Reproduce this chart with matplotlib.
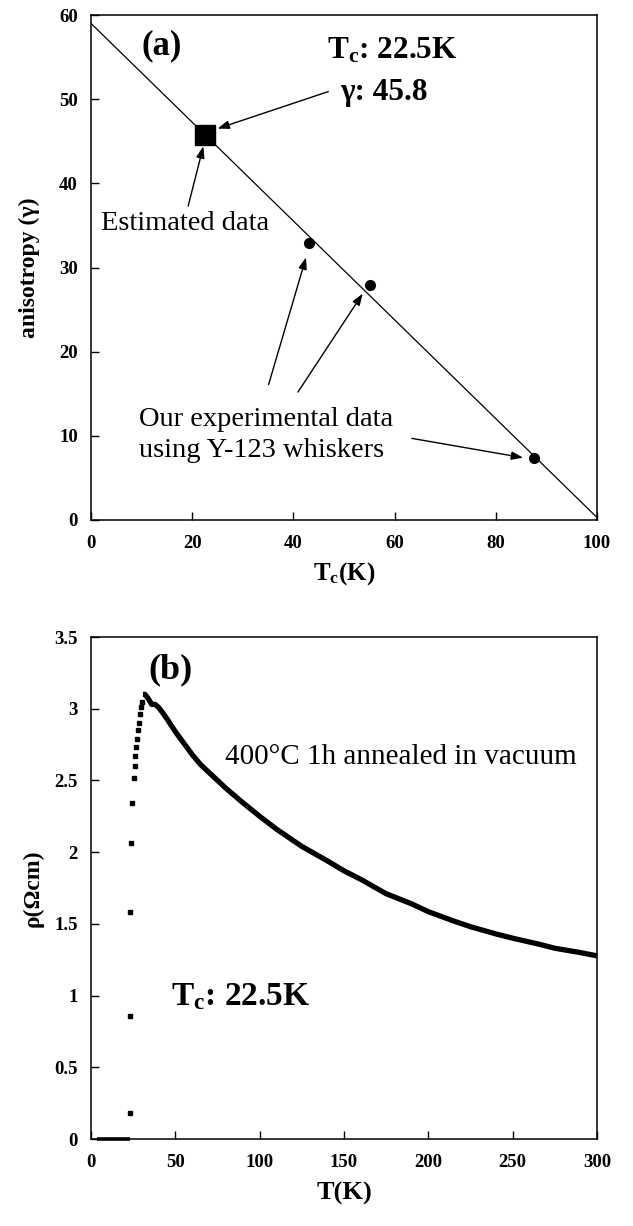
import matplotlib
matplotlib.use("Agg")
import matplotlib.pyplot as plt

plt.rcParams['font.family'] = ['Liberation Serif', 'DejaVu Serif']
plt.rcParams['mathtext.fontset'] = 'custom'
plt.rcParams['mathtext.rm'] = 'Liberation Serif'
plt.rcParams['mathtext.bf'] = 'Liberation Serif:bold'
plt.rcParams['mathtext.it'] = 'Liberation Serif:italic'

# ---- panel (a) data ----
fit_tc = [0, 100]
fit_gamma = [59.0, 0.3]
exp_tc = [43.1, 55.1, 87.6]
exp_gamma = [32.9, 27.9, 7.4]
est_tc = [22.5]
est_gamma = [45.8]
a_xticks = [0, 20, 40, 60, 80, 100]
a_yticks = [0, 10, 20, 30, 40, 50, 60]

# ---- panel (b) data ----
flat_T = [3.4, 8, 12, 16, 20, 22.9]
flat_rho = [0, 0, 0, 0, 0, 0]
trans_T = [23.0, 23.0, 23.3, 23.6, 24.4, 25.4, 25.9, 26.3, 26.9, 27.5, 27.9, 28.3, 28.8, 29.4, 30.0]
trans_rho = [0.18, 0.86, 1.586, 2.063, 2.34, 2.52, 2.6, 2.67, 2.73, 2.79, 2.85, 2.9, 2.96, 3.01, 3.05]
norm_T = [30.8, 32, 34, 36, 38, 40, 42, 45, 50, 55, 60, 65, 70, 75, 80, 90, 100, 110, 125,
          140, 150, 160, 175, 190, 200, 215, 225, 240, 250, 265, 275, 290, 300]
norm_rho = [3.10, 3.10, 3.07, 3.03, 3.03, 3.01, 2.98, 2.93, 2.84, 2.76, 2.68, 2.61, 2.555, 2.50,
            2.445, 2.345, 2.25, 2.16, 2.04, 1.94, 1.87, 1.81, 1.71, 1.64, 1.585, 1.52, 1.48,
            1.43, 1.40, 1.36, 1.33, 1.30, 1.277]
b_xticks = [0, 50, 100, 150, 200, 250, 300]
b_yticks = [0, 0.5, 1, 1.5, 2, 2.5, 3, 3.5]
b_yticklabels = ['0', '0.5', '1', '1.5', '2', '2.5', '3', '3.5']

W, H = 633, 1226
fig = plt.figure(figsize=(W / 100, H / 100), dpi=100)

def axrect(l, r, t, b):
    return [l / W, 1 - b / H, (r - l) / W, (b - t) / H]

axa = fig.add_axes(axrect(91, 597, 15, 520))
axb = fig.add_axes(axrect(91, 597, 637, 1139))

for ax in (axa, axb):
    for s in ax.spines.values():
        s.set_linewidth(1.1)
    ax.tick_params(direction='in', length=6, width=1.0, labelsize=13.5,
                   top=False, right=False)
    ax.tick_params(axis='x', pad=11)
    ax.tick_params(axis='y', pad=9.5)

# panel (a)
axa.plot(fit_tc, fit_gamma, color='black', lw=0.9)
axa.plot(exp_tc, exp_gamma, 'o', color='black', ms=7)
axa.plot(est_tc, est_gamma, 's', color='black', ms=14)
axa.set_xlim(0, 100)
axa.set_ylim(0, 60)
axa.set_xticks(a_xticks)
axa.set_yticks(a_yticks)
axa.set_xticklabels([str(v) for v in a_xticks], fontweight='bold')
axa.set_yticklabels([str(v) for v in a_yticks], fontweight='bold')
axa.set_xlabel(r'T$_{\mathbf{c}}$(K)', fontsize=18, fontweight='bold', labelpad=6)
axa.set_ylabel('anisotropy (γ)', fontsize=17, fontweight='bold', labelpad=14)

axa.text(10.0, 56.3, '(a)', fontsize=25, fontweight='bold', va='center', ha='left')
axa.text(46.6, 55.75, r'T$_{\mathbf{c}}$: 22.5K', fontsize=22.5, fontweight='bold', va='center', ha='left')
axa.text(49.2, 50.8, 'γ: 45.8', fontsize=22.5, fontweight='bold', va='center', ha='left')
axa.text(1.9, 35.2, 'Estimated data', fontsize=20.5, va='center', ha='left')
axa.text(9.5, 10.1, 'Our experimental data\nusing Y-123 whiskers', fontsize=20.5,
         va='center', ha='left', linespacing=1.3)

aprops = dict(arrowstyle='-|>,head_length=0.7,head_width=0.25', color='black', lw=1.0,
              shrinkA=0, shrinkB=0)
arrows_a = [((46.9, 50.9), (25.0, 46.5)),
            ((19.2, 37.3), (22.2, 44.4)),
            ((35.1, 16.1), (42.5, 31.2)),
            ((40.9, 15.2), (53.7, 26.9)),
            ((63.4, 9.7), (85.4, 7.4))]
for tail, head in arrows_a:
    axa.annotate('', xy=head, xytext=tail, arrowprops=aprops)

# panel (b)
axb.plot(flat_T, flat_rho, color='black', lw=2.6, solid_capstyle='butt', clip_on=False)
axb.plot(trans_T, trans_rho, 's', color='black', ms=3.2)
axb.plot(norm_T, norm_rho, color='black', lw=3.8, solid_capstyle='butt', clip_on=False)
axb.set_xlim(0, 300)
axb.set_ylim(0, 3.5)
axb.set_xticks(b_xticks)
axb.set_yticks(b_yticks)
axb.set_xticklabels([str(v) for v in b_xticks], fontweight='bold')
axb.set_yticklabels(b_yticklabels, fontweight='bold')
axb.set_xlabel('T(K)', fontsize=19, fontweight='bold', labelpad=8)
axb.set_ylabel('ρ(Ωcm)', fontsize=17, fontweight='bold', labelpad=8)

axb.text(33.9, 3.27, '(b)', fontsize=26, fontweight='bold', va='center', ha='left')
axb.text(79.2, 2.66, '400°C 1h annealed in vacuum', fontsize=21, va='center', ha='left')
axb.text(47.5, 0.99, r'T$_{\mathbf{c}}$: 22.5K', fontsize=24, fontweight='bold', va='center', ha='left')

fig.savefig('out.png', dpi=100)
